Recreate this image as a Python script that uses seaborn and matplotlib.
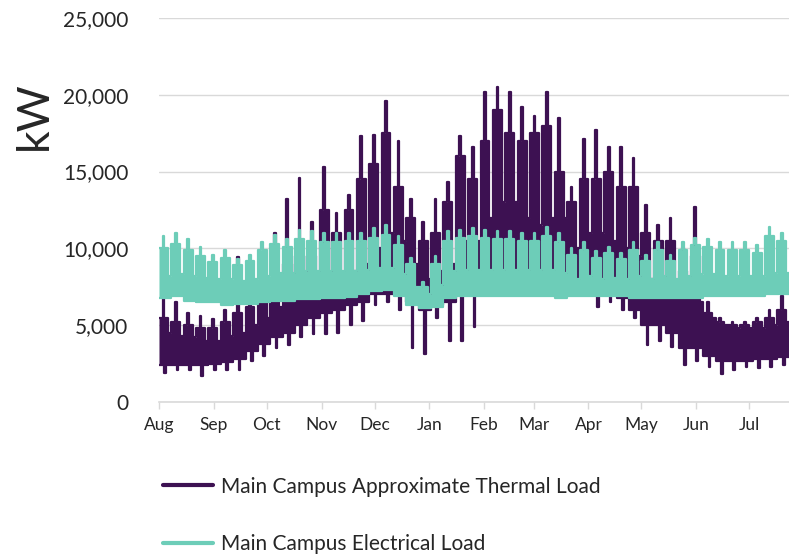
import pandas as pd
import seaborn as sns
import matplotlib.pyplot as plt
from matplotlib.ticker import FuncFormatter

# x axis: one label per month start
month_labels = ["Aug", "Sep", "Oct", "Nov", "Dec", "Jan",
                "Feb", "Mar", "Apr", "May", "Jun", "Jul"]
month_starts = pd.date_range("2018-08-01", periods=12, freq="MS")
week_starts = pd.date_range("2018-08-01", periods=51, freq="7D")

# Thermal load (kW), read per week off the chart
thermal_peak = [6800, 6500, 5800, 5600, 5400, 6000, 9450, 8800, 7500, 11000,
                13200, 14600, 11700, 15300, 12300, 13500, 17300, 17400, 19600, 17000,
                13200, 11700, 13200, 14300, 17300, 16600, 20200, 20500, 20200, 19200,
                18600, 20200, 18500, 14000, 17100, 17700, 16600, 16600, 15900, 12800,
                11500, 12000, 10000, 12700, 6500, 5500, 5200, 5200, 5500, 6000,
                6900]
thermal_top = [5500, 5200, 5000, 4800, 4800, 5200, 5800, 6200, 6500, 7500,
               9000, 9500, 9500, 12500, 11000, 12500, 14500, 15500, 17500, 14000,
               12000, 10500, 11000, 13000, 16000, 14500, 17000, 19000, 17500, 17000,
               17500, 18000, 15000, 13000, 14500, 14500, 15000, 14000, 14000, 11000,
               10500, 10500, 8500, 9500, 5800, 5200, 5000, 5000, 5200, 5500,
               6000]
thermal_dip = [4500, 4300, 4200, 4000, 4000, 4300, 4500, 5000, 5500, 6200,
               7000, 7500, 7500, 8000, 8000, 8500, 9000, 10000, 11000, 10500,
               9000, 8000, 8500, 9000, 10500, 10500, 12000, 13000, 13000, 12000,
               11500, 12000, 12000, 10000, 11000, 11000, 10500, 10000, 9500, 8000,
               8000, 7500, 7000, 6500, 5500, 5000, 4800, 4800, 4800, 5000,
               5200]
thermal_low = [2400, 2400, 2400, 2400, 2500, 2600, 2800, 3300, 3800, 4200,
               4500, 5000, 5500, 5800, 6000, 6300, 6500, 7000, 7000, 7000,
               6500, 6000, 6300, 6500, 7000, 7000, 8000, 8500, 8500, 8500,
               8500, 8500, 8000, 8000, 7500, 7000, 7000, 6800, 6000, 5000,
               5000, 4500, 3500, 3500, 3000, 2700, 2700, 2700, 2800, 2800,
               2900]
thermal_min = [1900, 2100, 2100, 1700, 2100, 2100, 2100, 2700, 3000, 3500,
               3700, 4200, 4400, 4400, 4500, 5000, 5300, 6300, 6500, 6000,
               3500, 3100, 5500, 4000, 4000, 4900, 7500, 8000, 8000, 8000,
               8000, 8000, 7500, 7500, 7000, 6200, 6500, 6000, 5500, 3700,
               4000, 3600, 2400, 2700, 2300, 1800, 2100, 2300, 2200, 2300,
               2400]

# Electrical load (kW), read per week off the chart
elec_peak = [10800, 11000, 10600, 10100, 9600, 9900, 9300, 9600, 10400, 10900,
             10600, 11200, 11100, 11000, 11000, 11000, 11000, 11300, 11500, 10800,
             9400, 7800, 9500, 11100, 11200, 11300, 11200, 11100, 11100, 11000,
             11000, 11400, 11000, 10000, 10400, 9800, 10100, 9700, 10400, 9600,
             10400, 9600, 10400, 10700, 10600, 10400, 10400, 10400, 10200, 11400,
             11000]
elec_top = [10000, 10300, 9900, 9500, 9100, 9400, 8900, 9200, 9900, 10300,
            10100, 10600, 10500, 10400, 10400, 10500, 10500, 10700, 10900, 10200,
            9000, 7500, 9000, 10500, 10700, 10800, 10700, 10600, 10600, 10500,
            10500, 10800, 10400, 9600, 9900, 9400, 9700, 9300, 9900, 9200,
            9900, 9200, 9900, 10200, 10100, 9900, 9900, 9900, 9700, 10800,
            10500]
elec_dip = [8200, 8300, 8200, 8100, 8000, 8000, 7900, 8000, 8200, 8400,
            8400, 8500, 8500, 8500, 8500, 8500, 8600, 8700, 8700, 8300,
            7500, 7000, 7600, 8500, 8600, 8600, 8600, 8600, 8600, 8600,
            8600, 8600, 8400, 8000, 8200, 8000, 8100, 8000, 8200, 8000,
            8200, 8000, 8200, 8300, 8300, 8200, 8200, 8200, 8200, 8400,
            8400]
elec_low = [6800, 6900, 6600, 6500, 6500, 6300, 6400, 6400, 6500, 6600,
            6600, 6700, 6700, 6800, 6800, 6850, 7000, 7200, 7300, 6900,
            6300, 6100, 6200, 6800, 6900, 6900, 6900, 6900, 6900, 6900,
            6900, 6900, 6800, 6900, 6900, 6900, 6900, 6900, 6800, 6800,
            6800, 6800, 6800, 6800, 6900, 6900, 6900, 6900, 6900, 7000,
            7000]

THERMAL = "Main Campus Approximate Thermal Load"
ELECTRIC = "Main Campus Electrical Load"
colors = {THERMAL: "#3d1152", ELECTRIC: "#6dcdb8"}


def build_series(name, peak, top, dip, low, floor):
    """ Lay the weekly readings out along the week: weekdays, one peak day, weekend. """
    rows = []
    for i, start in enumerate(week_starts):
        layout = [(0, top[i], low[i]), (2, peak[i], low[i]), (3, top[i], floor[i]),
                  (4, top[i], low[i]), (5, dip[i], low[i])]
        for day, hi, lo in layout:
            rows.append({"series": name, "date": start + pd.Timedelta(days=day),
                         "high": hi, "low": lo})
    end = dict(rows[-1])
    end["date"] = week_starts[-1] + pd.Timedelta(days=7)
    rows.append(end)
    return pd.DataFrame(rows)


df = pd.concat([
    build_series(THERMAL, thermal_peak, thermal_top, thermal_dip, thermal_low, thermal_min),
    build_series(ELECTRIC, elec_peak, elec_top, elec_dip, elec_low, elec_low),
])

sns.set_theme(style="white")
plt.rcParams["font.family"] = ["Lato", "DejaVu Sans"]

fig = plt.figure(figsize=(7.89, 5.55), dpi=100)
# the source chart is cropped on the right, so the axes run past the figure edge
ax = fig.add_axes([0.2015, 0.2757, 0.8175, 0.6919])

# electrical drawn after thermal so it sits on top, as in the original
for z, name in enumerate([THERMAL, ELECTRIC]):
    d = df[df["series"] == name]
    ax.fill_between(d["date"].to_numpy(), d["low"], d["high"], step="post",
                    color=colors[name], lw=0, zorder=2 + 2 * z)
    sns.lineplot(data=d, x="date", y="high", drawstyle="steps-post", color=colors[name],
                 lw=1.6, ax=ax, label=name, zorder=2.5 + 2 * z)
    sns.lineplot(data=d, x="date", y="low", drawstyle="steps-post", color=colors[name],
                 lw=1.6, ax=ax, zorder=2.5 + 2 * z)

ax.set_xlim(pd.Timestamp("2018-08-01"), pd.Timestamp("2019-08-01"))
ax.set_ylim(0, 25000)
ax.set_yticks(range(0, 25001, 5000))
ax.yaxis.set_major_formatter(FuncFormatter(lambda v, _: f"{v:,.0f}"))
ax.set_xticks(month_starts)
ax.set_xticklabels(month_labels)
ax.tick_params(axis="x", length=5, width=1, color="#d9d9d9", labelsize=12.5,
               pad=6, bottom=True)
ax.tick_params(axis="y", length=0, labelsize=15, pad=22)
ax.grid(True, axis="y", color="#d9d9d9", lw=1, zorder=0)
ax.set_axisbelow(True)
for side in ["top", "right", "left"]:
    ax.spines[side].set_visible(False)
ax.spines["bottom"].set_color("#d9d9d9")
ax.spines["bottom"].set_linewidth(1.2)

ax.set_xlabel("")
ax.set_ylabel("kW", fontsize=32)
ax.yaxis.set_label_coords(-0.162, 0.745)

handles, labels = ax.get_legend_handles_labels()
ax.get_legend().remove()
leg = fig.legend(handles, labels, loc="upper left", bbox_to_anchor=(0.207, 0.141),
                 frameon=False, fontsize=15, handlelength=2.4, handletextpad=0.35,
                 labelspacing=1.8, borderpad=0, borderaxespad=0)
for line in leg.get_lines():
    line.set_linewidth(3)

fig.savefig("out.png", dpi=100)
